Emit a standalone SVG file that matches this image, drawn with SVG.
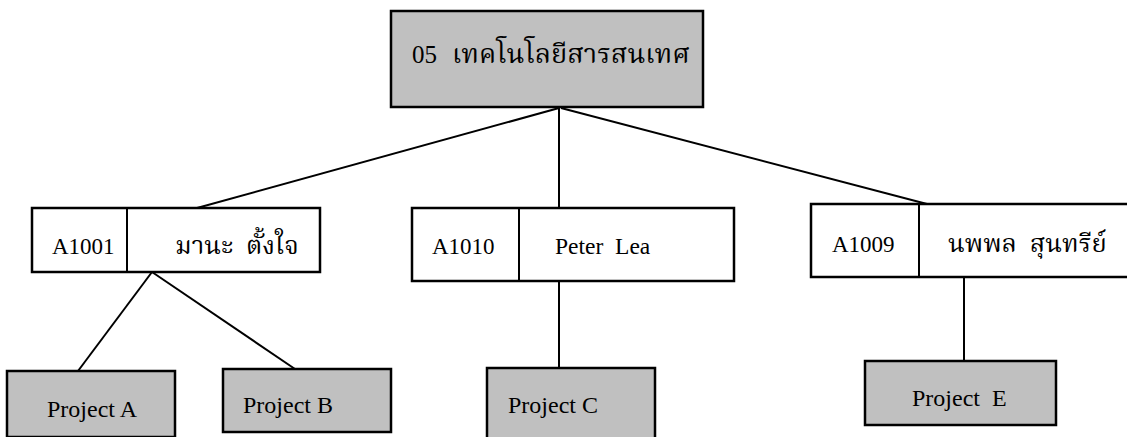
<svg xmlns="http://www.w3.org/2000/svg" width="1127" height="437" viewBox="0 0 1127 437">
<style>
.box{stroke:#000;stroke-width:2.5;}
.g{fill:#c0c0c0;}
.w{fill:#fff;}
.t{font-family:"Liberation Serif","Noto Serif Thai","Noto Sans Thai","Tlwg Typo","Loma","Garuda",serif;fill:#000;white-space:pre;}
.c{stroke:#000;stroke-width:2;fill:none;}
</style>
<rect x="0" y="0" width="1127" height="437" fill="#fff"/>
<g id="connectors">
<line class="c" x1="559" y1="108" x2="197" y2="208"/>
<line class="c" x1="559" y1="108" x2="559" y2="208"/>
<line class="c" x1="561" y1="108" x2="927" y2="204"/>
<line class="c" x1="152" y1="272" x2="78" y2="371"/>
<line class="c" x1="152" y1="272" x2="295" y2="369"/>
<line class="c" x1="559" y1="281" x2="559" y2="368"/>
<line class="c" x1="964" y1="278" x2="964" y2="361"/>
</g>
<g id="root">
<rect class="box g" x="391" y="11" width="312" height="96"/>
<text class="t" x="412" y="63" font-size="25">05</text>
<text class="t" x="452" y="63" font-size="26.5" textLength="238" lengthAdjust="spacingAndGlyphs">เทคโนโลยีสารสนเทศ</text>
</g>
<g id="a1001">
<rect class="box w" x="32" y="208" width="288" height="64"/>
<line class="c" x1="127" y1="208" x2="127" y2="272"/>
<text class="t" x="52" y="254" font-size="23">A1001</text>
<text class="t" x="175" y="254" font-size="25.5">มานะ  ตั้งใจ</text>
</g>
<g id="a1010">
<rect class="box w" x="412" y="208" width="322" height="73"/>
<line class="c" x1="519" y1="208" x2="519" y2="281"/>
<text class="t" x="432" y="254" font-size="23">A1010</text>
<text class="t" x="555" y="254" font-size="23.5">Peter  Lea</text>
</g>
<g id="a1009">
<rect class="box w" x="811" y="204" width="330" height="73"/>
<line class="c" x1="919" y1="204" x2="919" y2="277"/>
<text class="t" x="832" y="252" font-size="23">A1009</text>
<text class="t" x="948" y="252" font-size="25.5">นพพล  สุนทรีย์</text>
</g>
<g id="projA">
<rect class="box g" x="7" y="371" width="168" height="66"/>
<text class="t" x="47" y="417" font-size="24">Project A</text>
</g>
<g id="projB">
<rect class="box g" x="223" y="369" width="168" height="63"/>
<text class="t" x="243" y="413" font-size="24">Project B</text>
</g>
<g id="projC">
<rect class="box g" x="487" y="368" width="168" height="72"/>
<text class="t" x="508" y="413" font-size="24">Project C</text>
</g>
<g id="projE">
<rect class="box g" x="865" y="361" width="191" height="64"/>
<text class="t" x="912" y="406" font-size="24">Project  E</text>
</g>
</svg>
